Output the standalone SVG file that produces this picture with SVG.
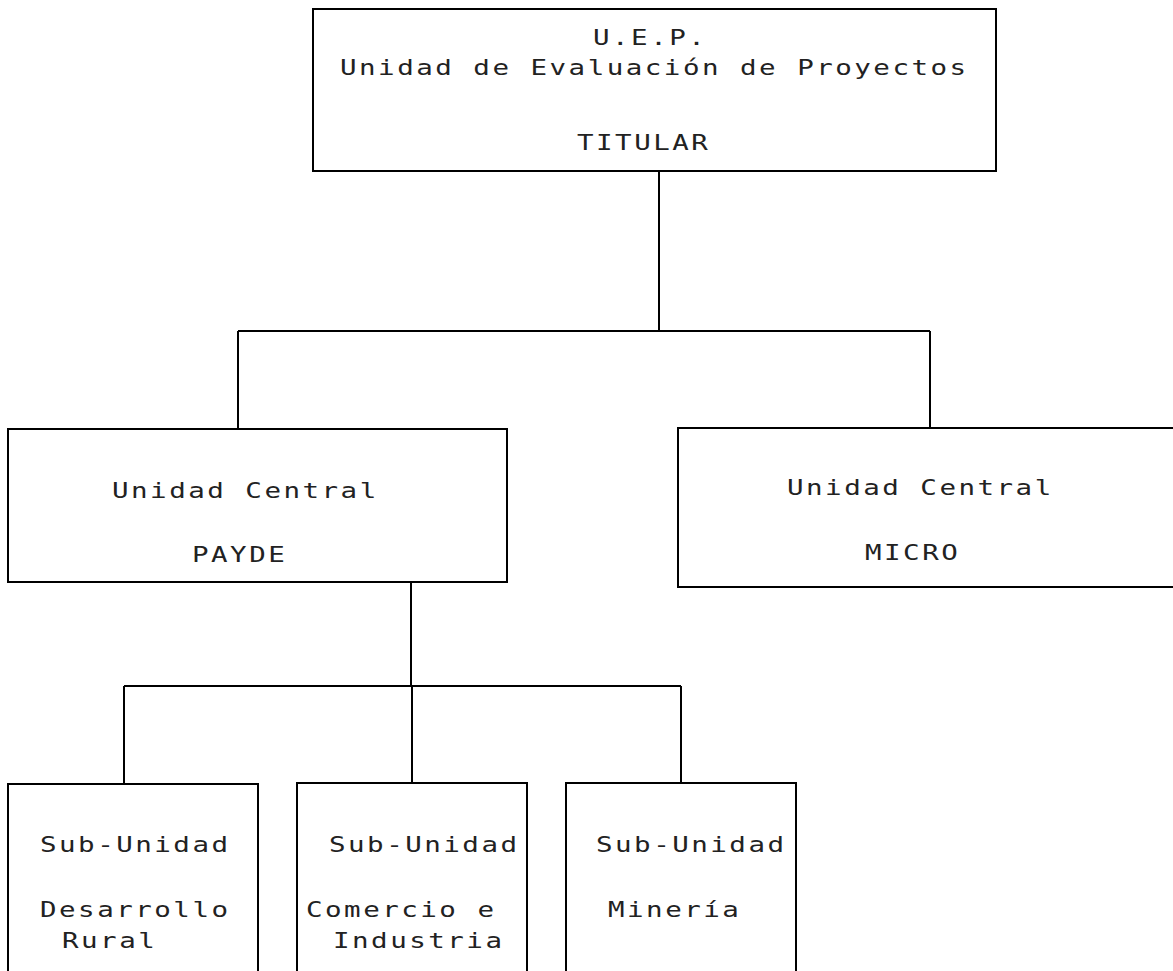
<svg xmlns="http://www.w3.org/2000/svg" width="1173" height="971" viewBox="0 0 1173 971">
<style>
.box{fill:none;stroke:#000;stroke-width:2}
.ln{fill:none;stroke:#000;stroke-width:2}
text{font-family:"DejaVu Sans Mono","Liberation Mono",monospace;font-size:22px;letter-spacing:2px;fill:#222}
</style>
<rect width="1173" height="971" fill="#fff"/>
<g id="connectors">
<path class="ln" d="M659,171 V331 M238,331 H930 M238,331 V429 M930,331 V428"/>
<path class="ln" d="M411,582 V686 M124,686 H681 M124,686 V784 M412,686 V783 M681,686 V783"/>
</g>
<g id="uep">
<rect class="box" x="313" y="9" width="683" height="162"/>
<text transform="translate(593,45) scale(1.25,1)">U.E.P.</text>
<text transform="translate(340,75) scale(1.25,1)">Unidad de Evaluación de Proyectos</text>
<text transform="translate(577,150) scale(1.25,1)">TITULAR</text>
</g>
<g id="payde">
<rect class="box" x="8" y="429" width="499" height="153"/>
<text transform="translate(112,498) scale(1.25,1)">Unidad Central</text>
<text transform="translate(192,562) scale(1.25,1)">PAYDE</text>
</g>
<g id="micro">
<rect class="box" x="678" y="428" width="505" height="159"/>
<text transform="translate(787,495) scale(1.25,1)">Unidad Central</text>
<text transform="translate(865,560) scale(1.25,1)">MICRO</text>
</g>
<g id="desarrollo">
<rect class="box" x="8" y="784" width="250" height="200"/>
<text transform="translate(40,852) scale(1.25,1)">Sub-Unidad</text>
<text transform="translate(40,917) scale(1.25,1)">Desarrollo</text>
<text transform="translate(62,948) scale(1.25,1)">Rural</text>
</g>
<g id="comercio">
<rect class="box" x="297" y="783" width="230" height="200"/>
<text transform="translate(329,852) scale(1.25,1)">Sub-Unidad</text>
<text transform="translate(306,917) scale(1.25,1)">Comercio e</text>
<text transform="translate(333,948) scale(1.25,1)">Industria</text>
</g>
<g id="mineria">
<rect class="box" x="566" y="783" width="230" height="200"/>
<text transform="translate(596,852) scale(1.25,1)">Sub-Unidad</text>
<text transform="translate(608,917) scale(1.25,1)">Minería</text>
</g>
</svg>
